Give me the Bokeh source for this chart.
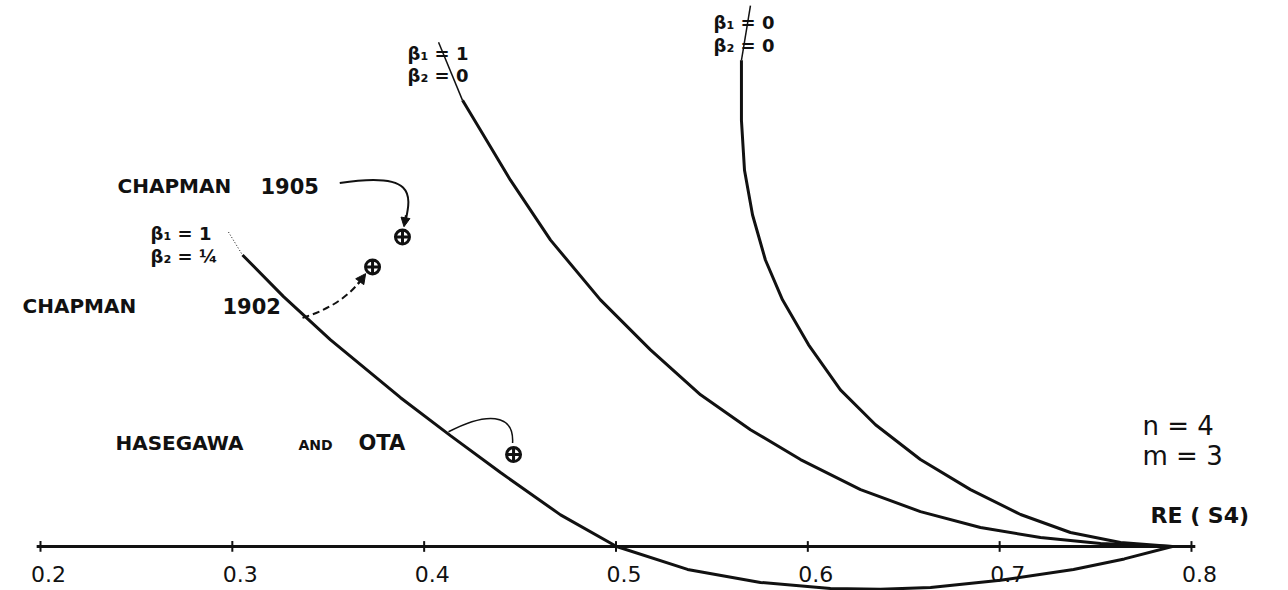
from bokeh.plotting import figure
from bokeh.models import Label, Arrow, NormalHead
from bokeh.embed import file_html
from bokeh.resources import INLINE

# Root loci in the complex S4 plane (n = 4, m = 3)
# beta1 = 1, beta2 = 1/4
re_a = [0.2980, 0.3053, 0.3267, 0.3512, 0.3877, 0.4137, 0.4398, 0.4711, 0.5003,
        0.5373, 0.5753, 0.6118, 0.6379, 0.6640, 0.7004, 0.7385, 0.7650, 0.7900]
im_a = [0.1642, 0.1522, 0.1305, 0.1079, 0.0777, 0.0579, 0.0386, 0.0165, 0.0000,
        -0.0120, -0.0188, -0.0219, -0.0224, -0.0214, -0.0177, -0.0120, -0.0065, 0.0000]
# beta1 = 1, beta2 = 0
re_b = [0.4075, 0.4200, 0.4294, 0.4450, 0.4659, 0.4919, 0.5180, 0.5441, 0.5701,
        0.5962, 0.6275, 0.6587, 0.6900, 0.7213, 0.7526, 0.7900]
im_b = [0.2633, 0.2330, 0.2174, 0.1913, 0.1600, 0.1288, 0.1027, 0.0792, 0.0610,
        0.0454, 0.0297, 0.0182, 0.0099, 0.0047, 0.0016, 0.0000]
# beta1 = 0, beta2 = 0
re_c = [0.5701, 0.5654, 0.5654, 0.5670, 0.5712, 0.5779, 0.5868, 0.6004, 0.6170,
        0.6353, 0.6587, 0.6848, 0.7109, 0.7369, 0.7630, 0.7900]
im_c = [0.2825, 0.2539, 0.2226, 0.1965, 0.1731, 0.1496, 0.1288, 0.1053, 0.0818,
        0.0636, 0.0454, 0.0297, 0.0167, 0.0073, 0.0021, 0.0000]

# Published values
ref_names = ["CHAPMAN 1905", "CHAPMAN 1902", "HASEGAWA AND OTA"]
ref_re = [0.3887, 0.3731, 0.4466]
ref_im = [0.1616, 0.1460, 0.0480]

# Real axis
tick_values = [0.2, 0.3, 0.4, 0.5, 0.6, 0.7, 0.8]
tick_labels = ["0.2", "0.3", "0.4", "0.5", "0.6", "0.7", "0.8"]

W, H = 1288, 590
p = figure(width=W, height=H, output_backend="svg", toolbar_location=None,
           x_axis_type=None, y_axis_type=None,
           x_range=(0.17915, 0.85058), y_range=(-0.0230, 0.28515),
           min_border=0, outline_line_color=None, background_fill_color="white",
           border_fill_color="white")

INK = "#111111"
HAND = "DejaVu Sans"

# axis line and "+" ticks
p.line([tick_values[0] - 0.002, tick_values[-1] + 0.002], [0, 0], line_color=INK, line_width=3)
p.segment(x0=tick_values, y0=[-0.0028] * len(tick_values), x1=tick_values,
          y1=[0.0028] * len(tick_values), line_color=INK, line_width=2)
for v, t in zip(tick_values, tick_labels):
    p.add_layout(Label(x=v, y=17, x_units="data", y_units="screen", text=t,
                       x_offset=8, text_align="center", text_baseline="middle",
                       text_font=HAND, text_font_size="22px", text_color=INK))

# loci: faint lead-in stroke, then the drawn curve
p.line(re_a[:2], im_a[:2], line_color=INK, line_width=1, line_dash="1 2")
p.line(re_a[1:], im_a[1:], line_color=INK, line_width=3)
p.line(re_b[:2], im_b[:2], line_color=INK, line_width=1.5)
p.line(re_b[1:], im_b[1:], line_color=INK, line_width=3)
p.line(re_c[:2], im_c[:2], line_color=INK, line_width=1.5)
p.line(re_c[1:], im_c[1:], line_color=INK, line_width=3)

# published points
p.scatter(ref_re, ref_im, marker="circle_cross", size=14, line_color=INK,
          line_width=3, fill_color="white")

# leaders from the labels to the points
p.bezier(x0=[0.3560], y0=[0.1898], x1=[0.3903], y1=[0.1700],
         cx0=[0.3950], cy0=[0.1960], cx1=[0.3935], cy1=[0.1840],
         line_color=INK, line_width=2)
p.add_layout(Arrow(end=NormalHead(size=9, fill_color=INK, line_color=INK),
                   x_start=0.3905, y_start=0.1730, x_end=0.3895, y_end=0.1670,
                   line_color=INK, line_width=2))
p.bezier(x0=[0.3366], y0=[0.1194], x1=[0.3680], y1=[0.1405],
         cx0=[0.3480], cy0=[0.1230], cx1=[0.3600], cy1=[0.1290],
         line_color=INK, line_width=2, line_dash="7 4")
p.add_layout(Arrow(end=NormalHead(size=10, fill_color=INK, line_color=INK),
                   x_start=0.3655, y_start=0.1370, x_end=0.3695, y_end=0.1425,
                   line_color=INK, line_width=2))
p.bezier(x0=[0.4127], y0=[0.0599], x1=[0.4461], y1=[0.0540],
         cx0=[0.4320], cy0=[0.0700], cx1=[0.4470], cy1=[0.0700],
         line_color=INK, line_width=1.5)


def note(text, sx, sy, size="20px", style="bold"):
    p.add_layout(Label(x=sx, y=H - sy, x_units="screen", y_units="screen", text=text,
                       text_align="left", text_baseline="middle", text_font=HAND,
                       text_font_size=size, text_font_style=style, text_color=INK))


note("CHAPMAN", 117, 185, "20px")
note("1905", 260, 185, "21px")
note("CHAPMAN", 22, 305, "20px")
note("1902", 222, 305, "21px")
note("HASEGAWA", 115, 442, "20px")
note("AND", 298, 444, "14px")
note("OTA", 358, 442, "21px")

note("β₁ = 1", 150, 233, "18px")
note("β₂ = ¼", 150, 256, "18px")
note("β₁ = 1", 407, 53, "18px")
note("β₂ = 0", 407, 75, "18px")
note("β₁ = 0", 713, 22, "18px")
note("β₂ = 0", 713, 45, "18px")

note("n = 4", 1142, 425, "26px", "normal")
note("m = 3", 1142, 455, "26px", "normal")
note("RE ( S4)", 1150, 515, "22px")

open("out.html", "w").write(file_html(p, INLINE))
